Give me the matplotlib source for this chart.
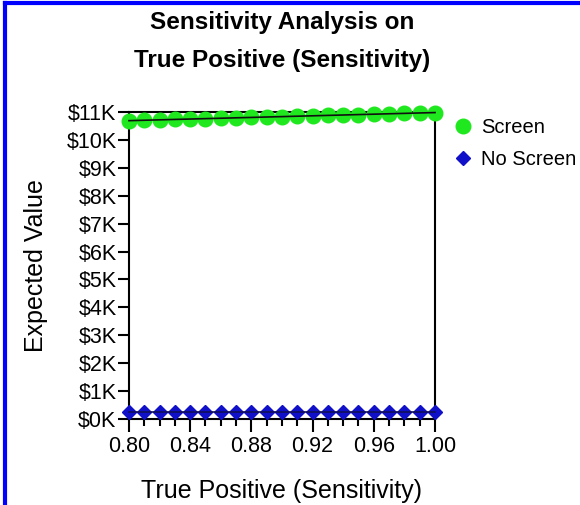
import numpy as np
import matplotlib.pyplot as plt
from matplotlib.lines import Line2D
from matplotlib.ticker import MultipleLocator, FuncFormatter

plt.rcParams['font.family'] = ['Liberation Sans', 'DejaVu Sans']

# data
sensitivity = [0.80, 0.81, 0.82, 0.83, 0.84, 0.85, 0.86, 0.87, 0.88, 0.89, 0.90,
               0.91, 0.92, 0.93, 0.94, 0.95, 0.96, 0.97, 0.98, 0.99, 1.00]
screen = [10690, 10705, 10719, 10734, 10748, 10763, 10777, 10792, 10806, 10821, 10835,
          10850, 10864, 10879, 10893, 10908, 10922, 10937, 10951, 10966, 10980]
no_screen = [260] * 21
x_ticks = [0.80, 0.84, 0.88, 0.92, 0.96, 1.00]

fig = plt.figure(figsize=(5.8, 5.05), dpi=100)
ax = fig.add_axes([0.2224, 0.1703, 0.5276, 0.6079])

# markers first, then the thin connecting line on top of them
ax.plot(sensitivity, screen, linestyle='none', marker='o', markersize=10.5,
        markerfacecolor='#1fe81f', markeredgecolor='#1fe81f', clip_on=False,
        label='Screen', zorder=3)
ax.plot(sensitivity, no_screen, linestyle='none', marker='D', markersize=7.5,
        markerfacecolor='#1010c8', markeredgecolor='#1010c8', clip_on=False,
        label='No Screen', zorder=3)
ax.plot(sensitivity, screen, color='#101010', lw=1.2, clip_on=False, zorder=4)
ax.plot(sensitivity, no_screen, color='#10105a', lw=1.2, clip_on=False, zorder=4)

ax.set_xlim(0.80, 1.00)
ax.set_ylim(0, 11000)
ax.set_xticks(x_ticks)
ax.xaxis.set_minor_locator(MultipleLocator(0.01))
ax.yaxis.set_major_locator(MultipleLocator(1000))
ax.yaxis.set_major_formatter(FuncFormatter(lambda v, p: '$%dK' % round(v / 1000)))
ax.xaxis.set_major_formatter(FuncFormatter(lambda v, p: '%.2f' % v))

for s in ax.spines.values():
    s.set_linewidth(1.5)
ax.tick_params(axis='y', which='major', direction='out', length=8, width=1.5,
               labelsize=15.5, colors='black', pad=1)
ax.tick_params(axis='x', which='major', direction='out', length=9, width=1.5,
               labelsize=15.5, colors='black', pad=3)
ax.tick_params(axis='x', which='minor', direction='out', length=5, width=1.5)

ax.set_xlabel('True Positive (Sensitivity)', fontsize=18, labelpad=16)
ax.set_ylabel('Expected Value', fontsize=18, labelpad=13)

fig.text(0.486, 0.956, 'Sensitivity Analysis on', ha='center', va='center',
         fontsize=17.5, fontweight='bold')
fig.text(0.486, 0.881, 'True Positive (Sensitivity)', ha='center', va='center',
         fontsize=17.5, fontweight='bold')

leg = ax.legend(loc='upper left', bbox_to_anchor=(1.005, 1.04), frameon=False,
                fontsize=14.5, handlelength=0.8, handletextpad=0.5, labelspacing=0.65)

# blue frame round the picture
fig.add_artist(Line2D([0.009, 0.009], [0, 0.995], color='#0000ff', lw=3))
fig.add_artist(Line2D([0.009, 1], [0.995, 0.995], color='#0000ff', lw=3))

fig.savefig('out.png', dpi=100)
